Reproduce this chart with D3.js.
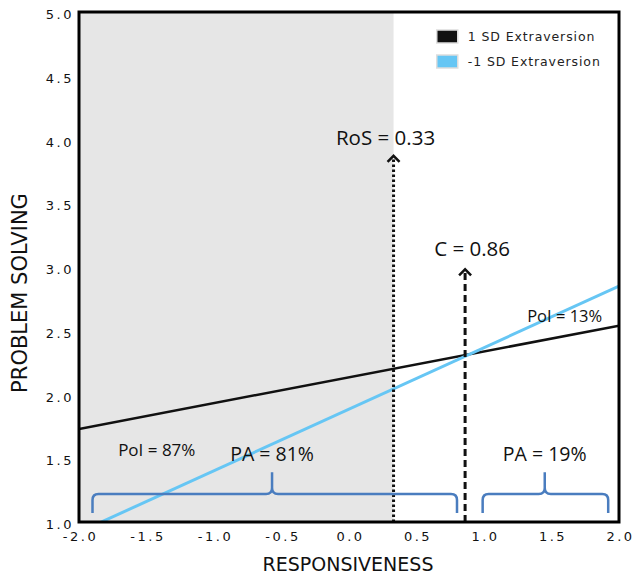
<!DOCTYPE html>
<html>
<head>
<meta charset="utf-8">
<script src="https://cdn.jsdelivr.net/npm/d3@7"></script>
<style>
  body { margin: 0; background: #fff; overflow: hidden; }
  svg { display: block; }
  .ann { font-family: "Open Sans", "Liberation Sans", sans-serif; fill: #111; }
  .ttl { font-family: "DejaVu Sans", Verdana, sans-serif; fill: #111; }
</style>
</head>
<body>
<div id="chart"></div>
<script>
// x values of the two simple slopes
const xEnds = [-2, 2];
// 1 SD Extraversion (black) and -1 SD Extraversion (blue)
const highExtra = [1.73, 2.54];
const lowExtra = [0.92, 2.85];
const seriesNames = ["1 SD Extraversion", "-1 SD Extraversion"];
const seriesColors = ["#111111", "#66c6f4"];

const xTicks = [-2.0, -1.5, -1.0, -0.5, 0.0, 0.5, 1.0, 1.5, 2.0];
const yTicks = [1.0, 1.5, 2.0, 2.5, 3.0, 3.5, 4.0, 4.5, 5.0];

const ros = 0.33;   // region of significance
const cross = 0.86; // crossover point

const width = 633, height = 577;
const margin = {top: 12, right: 14, bottom: 55, left: 79};
const w = width - margin.left - margin.right;
const h = height - margin.top - margin.bottom;

const svg = d3.select('#chart').append('svg')
    .attr('width', width)
    .attr('height', height);

const x = d3.scaleLinear().domain([-2, 2]).range([0, w]);
const y = d3.scaleLinear().domain([1, 5]).range([h, 0]);

svg.append('defs').append('clipPath').attr('id', 'plotclip')
  .append('rect').attr('width', w).attr('height', h);

const g = svg.append('g')
    .attr('transform', 'translate(' + margin.left + ',' + margin.top + ')');

// grey shaded region left of RoS
g.append('rect')
    .attr('width', x(ros))
    .attr('height', h)
    .attr('fill', '#e6e6e6');

// axes (labels only)
const fmt = d => d.toFixed(1);
const xAxis = g.append('g')
    .attr('transform', 'translate(0,' + h + ')')
    .call(d3.axisBottom(x).tickValues(xTicks).tickFormat(fmt).tickSize(0).tickPadding(10));
xAxis.select('.domain').remove();
xAxis.selectAll('.tick text')
    .style('font-family', '"DejaVu Sans", Verdana, sans-serif')
    .style('font-size', '13px')
    .style('letter-spacing', '2.5px')
    .attr('dx', 1)
    .attr('fill', '#111');

const yAxis = g.append('g')
    .call(d3.axisLeft(y).tickValues(yTicks).tickFormat(fmt).tickSize(0).tickPadding(5));
yAxis.select('.domain').remove();
yAxis.selectAll('.tick text')
    .style('font-family', '"DejaVu Sans", Verdana, sans-serif')
    .style('font-size', '13px')
    .style('letter-spacing', '2.5px')
    .attr('dy', '0.5em')
    .attr('fill', '#111');

// regression lines
const line = d3.line().x(d => x(d[0])).y(d => y(d[1]));
const lines = g.append('g').attr('clip-path', 'url(#plotclip)');
[highExtra, lowExtra].forEach((vals, i) => {
  lines.append('path')
      .datum(xEnds.map((xv, j) => [xv, vals[j]]))
      .attr('d', line)
      .attr('fill', 'none')
      .attr('stroke', seriesColors[i])
      .attr('stroke-width', i === 0 ? 2.5 : 3);
});

// arrows for RoS and crossover
function arrow(xv, topY, dash) {
  g.append('line')
      .attr('x1', x(xv)).attr('x2', x(xv))
      .attr('y1', h).attr('y2', y(topY) + 2)
      .attr('stroke', '#111')
      .attr('stroke-width', 3)
      .attr('stroke-dasharray', dash);
  g.append('path')
      .attr('d', 'M' + (x(xv) - 6) + ',' + (y(topY) + 7) + 'L' + x(xv) + ',' + (y(topY) + 1) + 'L' + (x(xv) + 6) + ',' + (y(topY) + 7))
      .attr('fill', 'none')
      .attr('stroke', '#111')
      .attr('stroke-width', 2.5);
}
arrow(ros, 3.88, '2.5,2.5');
arrow(cross, 2.99, '7,4');

g.append('text').attr('class', 'ann')
    .attr('x', x(ros) - 8).attr('y', y(3.96))
    .attr('text-anchor', 'middle')
    .attr('font-size', 20.5)
    .text('RoS = 0.33');
g.append('text').attr('class', 'ann')
    .attr('x', x(cross) + 7).attr('y', y(3.09))
    .attr('text-anchor', 'middle')
    .attr('font-size', 20.5)
    .text('C = 0.86');

// braces for proportion affected
const braces = [
  {x0: -1.9, x1: 0.8, tip: -0.57, label: 'PA = 81%'},
  {x0: 0.99, x1: 1.92, tip: 1.45, label: 'PA = 19%'}
];
const braceBase = 1.07, braceMid = 1.22, braceTop = 1.39;
braces.forEach(b => {
  const x0 = x(b.x0), x1 = x(b.x1), xt = x(b.tip);
  const yb = y(braceBase), ym = y(braceMid), yt = y(braceTop);
  const r = 6;
  const p = 'M' + x0 + ',' + yb +
    'L' + x0 + ',' + (ym + r) +
    'Q' + x0 + ',' + ym + ' ' + (x0 + r) + ',' + ym +
    'L' + (xt - r) + ',' + ym +
    'Q' + xt + ',' + ym + ' ' + xt + ',' + (ym - r) +
    'L' + xt + ',' + yt +
    'M' + xt + ',' + (ym - r) +
    'Q' + xt + ',' + ym + ' ' + (xt + r) + ',' + ym +
    'L' + (x1 - r) + ',' + ym +
    'Q' + x1 + ',' + ym + ' ' + x1 + ',' + (ym + r) +
    'L' + x1 + ',' + yb;
  g.append('path')
      .attr('d', p)
      .attr('fill', 'none')
      .attr('stroke', '#4a7dbf')
      .attr('stroke-width', 2.5);
  g.append('text').attr('class', 'ann')
      .attr('x', xt).attr('y', yt - 11)
      .attr('text-anchor', 'middle')
      .attr('font-size', 19.5)
      .text(b.label);
});

// proportion of interaction labels
g.append('text').attr('class', 'ann')
    .attr('x', x(-1.71)).attr('y', y(1.52))
    .attr('font-size', 17)
    .text('PoI = 87%');
g.append('text').attr('class', 'ann')
    .attr('x', x(1.32)).attr('y', y(2.57))
    .attr('font-size', 16.5)
    .text('PoI = 13%');

// legend
const legend = g.append('g').attr('transform', 'translate(' + x(0.65) + ',' + 18 + ')');
seriesNames.forEach((name, i) => {
  const row = legend.append('g').attr('transform', 'translate(0,' + (i * 25) + ')');
  row.append('rect')
      .attr('width', 21).attr('height', 13)
      .attr('fill', seriesColors[i])
      .attr('stroke', '#ddd')
      .attr('stroke-width', 1.5);
  row.append('text')
      .attr('x', 31).attr('y', 11)
      .style('font-family', '"DejaVu Sans", Verdana, sans-serif')
      .style('font-size', '12.5px')
      .style('letter-spacing', '0.9px')
      .attr('fill', '#222')
      .text(name);
});

// plot frame, drawn last on top
svg.append('rect')
    .attr('x', margin.left).attr('y', margin.top)
    .attr('width', w).attr('height', h)
    .style('fill', 'none')
    .style('stroke', '#000')
    .style('stroke-width', '3px');

// axis titles
svg.append('text').attr('class', 'ttl')
    .attr('x', 348).attr('y', 571)
    .attr('text-anchor', 'middle')
    .attr('font-size', 19)
    .text('RESPONSIVENESS');
svg.append('text').attr('class', 'ttl')
    .attr('transform', 'translate(27,293) rotate(-90)')
    .attr('text-anchor', 'middle')
    .attr('font-size', 21)
    .text('PROBLEM SOLVING');
</script>
</body>
</html>
